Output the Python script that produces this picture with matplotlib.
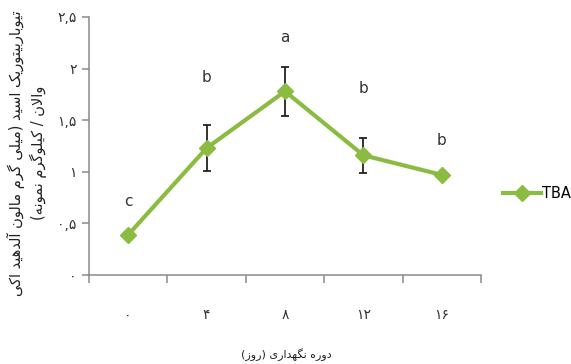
#!/usr/bin/env python
"""TBA over storage period (days), with Duncan letters, Persian labels."""

import matplotlib

matplotlib.use("Agg")
import matplotlib.pyplot as plt  # noqa: E402
import numpy as np  # noqa: E402

# data
days = ["۰", "۴", "۸", "۱۲", "۱۶"]
tba = [0.39, 1.23, 1.78, 1.16, 0.97]
tba_err = [0.0, 0.22, 0.24, 0.17, 0.0]
letters = ["c", "b", "a", "b", "b"]
y_ticks = [0, 0.5, 1, 1.5, 2, 2.5]
y_tick_labels = ["۰", "۰,۵", "۱", "۱,۵", "۲", "۲,۵"]
series_name = "TBA"
ylabel_lines = ["تیوباربیتوریک اسید (میلی گرم مالون آلدهید اکی", "والان / کیلوگرم نمونه)"]
xlabel = "دوره نگهداری (روز)"

# where each letter sits above its point (points), layout only
letter_offsets_pt = [24, 51, 39, 48, 25]

GREEN = "#8CBB42"
AXIS = "#8a8a8a"

# minimal Persian shaping: matplotlib has no bidi / joining of its own
FORMS = {
    "ا": ("\uFE8D", "\uFE8E"),
    "آ": ("\uFE81", "\uFE82"),
    "ب": ("\uFE8F", "\uFE90", "\uFE91", "\uFE92"),
    "ت": ("\uFE95", "\uFE96", "\uFE97", "\uFE98"),
    "د": ("\uFEA9", "\uFEAA"),
    "ر": ("\uFEAD", "\uFEAE"),
    "ز": ("\uFEAF", "\uFEB0"),
    "س": ("\uFEB1", "\uFEB2", "\uFEB3", "\uFEB4"),
    "ل": ("\uFEDD", "\uFEDE", "\uFEDF", "\uFEE0"),
    "م": ("\uFEE1", "\uFEE2", "\uFEE3", "\uFEE4"),
    "ن": ("\uFEE5", "\uFEE6", "\uFEE7", "\uFEE8"),
    "ه": ("\uFEE9", "\uFEEA", "\uFEEB", "\uFEEC"),
    "و": ("\uFEED", "\uFEEE"),
    "ی": ("\uFBFC", "\uFBFD", "\uFBFE", "\uFBFF"),
    "ک": ("\uFB8E", "\uFB8F", "\uFB90", "\uFB91"),
    "گ": ("\uFB92", "\uFB93", "\uFB94", "\uFB95"),
}
LAM_ALEF = {"ا": ("\uFEFB", "\uFEFC"), "آ": ("\uFEF5", "\uFEF6")}


def shape(text):
    out = []
    n = len(text)
    i = 0

    def joins_next(c):
        return c in FORMS and len(FORMS[c]) == 4

    while i < n:
        c = text[i]
        prev = text[i - 1] if i > 0 else ""
        nxt = text[i + 1] if i + 1 < n else ""
        jp = joins_next(prev)
        if c == "ل" and nxt in LAM_ALEF:
            lig = LAM_ALEF[nxt]
            out.append(lig[1] if jp else lig[0])
            i += 2
            continue
        if c in FORMS:
            f = FORMS[c]
            jn = len(f) == 4 and nxt in FORMS
            if jp and jn:
                out.append(f[3])
            elif jp:
                out.append(f[1])
            elif jn:
                out.append(f[2])
            else:
                out.append(f[0])
        else:
            out.append(c)
        i += 1
    mirror = {"(": ")", ")": "("}
    return "".join(mirror.get(c, c) for c in reversed(out))


plt.rcParams["font.family"] = ["DejaVu Sans"]

fig = plt.figure(figsize=(5.71, 3.64), dpi=100)
ax = fig.add_axes([0.1559, 0.2445, 0.6865, 0.7088])

x = np.arange(len(days))
ax.errorbar(x, tba, yerr=tba_err, fmt="none", ecolor="#222222",
            elinewidth=1.3, capsize=3, capthick=1.3, zorder=2)
ax.plot(x, tba, color=GREEN, linewidth=3, marker="D", markersize=8,
        markerfacecolor=GREEN, markeredgecolor=GREEN, label=series_name, zorder=3)

for xi, yi, lab, off in zip(x, tba, letters, letter_offsets_pt):
    ax.annotate(lab, (xi, yi), xytext=(0, off), textcoords="offset points",
                ha="center", va="center", fontsize=11, color="#333333",
                family=["Liberation Sans Narrow", "DejaVu Sans"])

ax.set_xlim(-0.5, len(days) - 0.5)
ax.set_ylim(0, 2.5)
ax.set_yticks(y_ticks)
ax.set_yticklabels(y_tick_labels)
# category ticks sit between the categories, labels at the centres
ax.set_xticks(np.arange(len(days) + 1) - 0.5)
ax.set_xticklabels([])
ax.set_xticks(x, minor=True)
ax.set_xticklabels(days, minor=True)
ax.tick_params(axis="x", which="minor", length=0, pad=24, labelsize=10, labelcolor="#333333")
ax.tick_params(axis="x", which="major", length=6, width=1.1, color=AXIS, direction="out")
ax.tick_params(axis="y", length=5, width=1.1, color=AXIS, direction="out", pad=4,
               labelsize=10, labelcolor="#333333")

for side in ("top", "right"):
    ax.spines[side].set_visible(False)
for side in ("left", "bottom"):
    ax.spines[side].set_color(AXIS)
    ax.spines[side].set_linewidth(1.1)

fig.text(286 / 571, 1 - 355 / 364, shape(xlabel), ha="center", va="center",
         fontsize=8, color="#222222")
fig.text(27 / 571, 1 - 153 / 364, "\n".join(shape(s) for s in ylabel_lines),
         rotation=90, ha="center", va="center", multialignment="center",
         fontsize=10.5, color="#222222", linespacing=1.35)

ax.legend(loc="center left", bbox_to_anchor=(503 / 571, 1 - 194 / 364),
          bbox_transform=fig.transFigure, frameon=False, handlelength=2.6,
          handletextpad=0.1, borderpad=0, borderaxespad=0,
          prop={"family": ["Liberation Sans Narrow", "DejaVu Sans"], "size": 10.5})

fig.savefig("out.png", dpi=100)
plt.close(fig)
